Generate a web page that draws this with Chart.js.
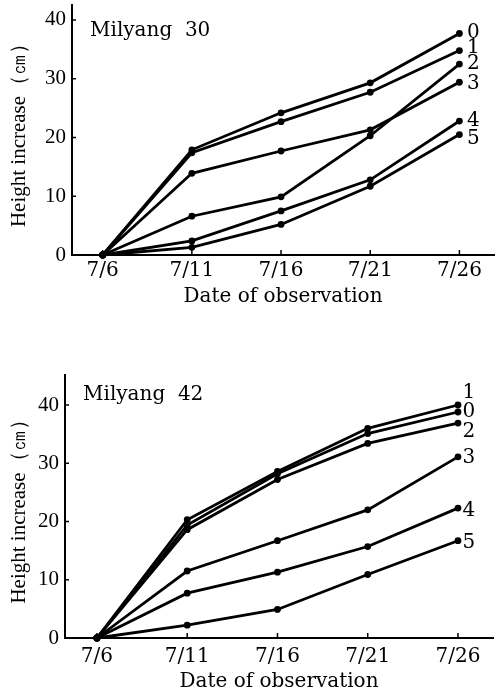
<!DOCTYPE html>
<html><head><meta charset="utf-8">
<script src="https://cdn.jsdelivr.net/npm/chart.js@4"></script>
<style>
html,body{margin:0;padding:0;background:#fff;width:498px;height:694px;overflow:hidden}
canvas{position:absolute;left:0}
#c1{top:0}
#c2{top:340px}
</style></head><body>
<canvas id="c1" width="498" height="312"></canvas>
<canvas id="c2" width="498" height="354"></canvas>
<script>
// ---- data ----
const days = [6, 11, 16, 21, 26];
const dateLabels = ['7/6', '7/11', '7/16', '7/21', '7/26'];
const yTickValues = [0, 10, 20, 30, 40];
const seriesNames = ['0', '1', '2', '3', '4', '5'];
const panelNames = ['Milyang  30', 'Milyang  42'];
const xTitle = 'Date of observation';
const yTitle = 'Height increase（㎝）';

// Milyang 30 (top panel)
const m30_s0 = [0, 17.9, 24.2, 29.3, 37.7];
const m30_s1 = [0, 17.4, 22.7, 27.7, 34.8];
const m30_s2 = [0, 6.6, 9.9, 20.3, 32.5];
const m30_s3 = [0, 13.9, 17.7, 21.3, 29.4];
const m30_s4 = [0, 2.4, 7.5, 12.8, 22.8];
const m30_s5 = [0, 1.3, 5.2, 11.7, 20.5];

// Milyang 42 (bottom panel)
const m42_s0 = [0, 19.4, 28.2, 35.1, 38.8];
const m42_s1 = [0, 20.3, 28.6, 36.0, 40.0];
const m42_s2 = [0, 18.6, 27.2, 33.4, 36.9];
const m42_s3 = [0, 11.5, 16.7, 22.0, 31.1];
const m42_s4 = [0, 7.7, 11.3, 15.7, 22.3];
const m42_s5 = [0, 2.2, 4.9, 10.9, 16.7];

// ---- helpers ----
function toPoints(values) {
  return values.map((v, i) => ({ x: days[i], y: v }));
}
function makeDatasets(seriesList) {
  return seriesList.map((vals, i) => ({
    label: seriesNames[i],
    data: toPoints(vals),
    borderColor: '#000',
    backgroundColor: '#000',
    pointBackgroundColor: '#000',
    pointBorderColor: '#000',
    borderWidth: 2.8,
    pointRadius: 3.4,
    pointBorderWidth: 0,
    tension: 0,
    clip: false
  }));
}

const annotatePlugin = {
  id: 'annotate',
  afterDatasetsDraw(chart, args, opts) {
    const ctx = chart.ctx;
    const area = chart.chartArea;
    ctx.save();
    ctx.fillStyle = '#000';
    ctx.strokeStyle = '#000';
    // inside tick marks
    ctx.lineWidth = 1.5;
    const xs = chart.scales.x, ys = chart.scales.y;
    xs.ticks.forEach(t => {
      const px = xs.getPixelForValue(t.value);
      ctx.beginPath(); ctx.moveTo(px, area.bottom); ctx.lineTo(px, area.bottom - 5); ctx.stroke();
    });
    ys.ticks.forEach(t => {
      const py = ys.getPixelForValue(t.value);
      ctx.beginPath(); ctx.moveTo(area.left, py); ctx.lineTo(area.left + 4, py); ctx.stroke();
    });
    // panel name
    ctx.font = '20px "DejaVu Serif"';
    ctx.textAlign = 'left';
    ctx.textBaseline = 'alphabetic';
    ctx.fillText(opts.panel, area.left + opts.panelDx, area.top + opts.panelDy);
    // series labels at the last point
    ctx.textAlign = 'center';
    ctx.textBaseline = 'middle';
    chart.data.datasets.forEach((ds, i) => {
      const meta = chart.getDatasetMeta(i);
      const pt = meta.data[meta.data.length - 1];
      const off = opts.offsets[i];
      ctx.fillText(ds.label, pt.x + off[0], pt.y + off[1]);
    });
    ctx.restore();
  }
};

function makeChart(canvasId, seriesList, cfg) {
  return new Chart(document.getElementById(canvasId), {
    type: 'line',
    data: { datasets: makeDatasets(seriesList) },
    plugins: [annotatePlugin],
    options: {
      responsive: false,
      animation: false,
      layout: { padding: cfg.padding },
      plugins: {
        legend: { display: false },
        tooltip: { enabled: false },
        annotate: { panel: cfg.panel, panelDx: 18, panelDy: cfg.panelDy, offsets: cfg.offsets }
      },
      scales: {
        x: {
          type: 'linear',
          min: cfg.xMin, max: cfg.xMax,
          afterBuildTicks: s => { s.ticks = days.map(d => ({ value: d })); },
          afterFit: s => { s.height = cfg.xHeight; s.paddingLeft = 0; s.paddingRight = 0; },
          grid: { drawOnChartArea: false, drawTicks: false },
          border: { display: true, color: '#000', width: 2 },
          ticks: {
            color: '#000',
            font: { family: 'DejaVu Serif', size: 20 },
            padding: cfg.xTickPad,
            maxRotation: 0,
            callback: (v, i) => dateLabels[i]
          },
          title: {
            display: true, text: xTitle, color: '#000',
            font: { family: 'DejaVu Serif', size: 20 },
            padding: { top: 0, bottom: cfg.xTitlePad }
          }
        },
        y: {
          type: 'linear',
          min: 0, max: cfg.yMax,
          afterBuildTicks: s => { s.ticks = yTickValues.map(v => ({ value: v })); },
          afterFit: s => { s.width = cfg.yWidth; s.paddingTop = 0; s.paddingBottom = 0; },
          grid: { drawOnChartArea: false, drawTicks: false },
          border: { display: true, color: '#000', width: 2 },
          ticks: {
            color: '#000',
            font: { family: 'Liberation Serif', size: 21 },
            padding: 6
          },
          title: {
            display: true, text: yTitle, color: '#000',
            font: { family: 'Liberation Serif', size: 21 },
            padding: { top: 7, bottom: 0 }
          }
        }
      }
    }
  });
}

makeChart('c1', [m30_s0, m30_s1, m30_s2, m30_s3, m30_s4, m30_s5], {
  padding: { top: 5, right: 0, left: 0, bottom: 0 },
  xMin: 4.28, xMax: 27.94, yMax: 42.55,
  xHeight: 57, yWidth: 72,
  xTickPad: 4, xTitlePad: 3,
  panel: panelNames[0], panelDy: 31,
  offsets: [[14, -1], [14, -3], [14, 0], [14, 2], [14, 0], [14, 4]]
});

makeChart('c2', [m42_s0, m42_s1, m42_s2, m42_s3, m42_s4, m42_s5], {
  padding: { top: 35, right: 5, left: 0, bottom: 0 },
  xMin: 4.23, xMax: 27.94, yMax: 45.15,
  xHeight: 56, yWidth: 65,
  xTickPad: 7, xTitlePad: 0,
  panel: panelNames[1], panelDy: 25,
  offsets: [[11, 0], [11, -12], [11, 9], [11, 1], [11, 3], [11, 2]]
});
</script>
</body></html>
